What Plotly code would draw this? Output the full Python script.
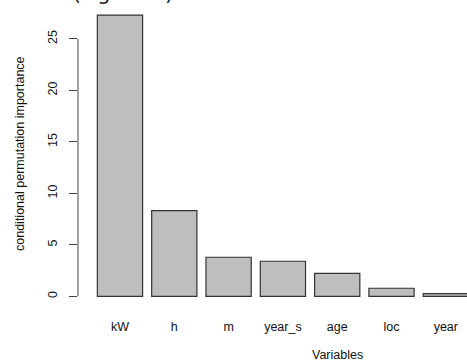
import plotly.graph_objects as go

variables = ["kW", "h", "m", "year_s", "age", "loc", "year"]
importance = [27.3, 8.31, 3.79, 3.40, 2.23, 0.78, 0.25]
y_ticks = [0, 5, 10, 15, 20, 25]

W, H = 467, 363
ML, MR, MT, MB = 78, 0, 4, 56
PH = H - MT - MB
PW = W - ML - MR

fig = go.Figure(go.Bar(
    x=list(range(len(variables))),
    y=importance,
    marker=dict(color="#BEBEBE", line=dict(color="#333333", width=1.2)),
    width=0.833,
    hoverinfo="skip",
))

fig.update_layout(
    width=W, height=H,
    margin=dict(l=ML, r=MR, t=MT, b=MB, pad=0),
    paper_bgcolor="white", plot_bgcolor="white",
    showlegend=False,
    font=dict(family="Liberation Sans, Arial, sans-serif", size=12, color="#000000"),
    xaxis=dict(
        range=[-0.773, 6.39],
        tickmode="array",
        tickvals=list(range(len(variables))),
        ticktext=variables,
        showgrid=False, zeroline=False, showline=False,
        ticks="", ticklabelstandoff=10,
        tickfont=dict(size=12.5, color="#111111"),
    ),
    yaxis=dict(
        range=[-1.04, 28.38],
        tickmode="array",
        tickvals=y_ticks,
        showgrid=False, zeroline=False, showline=False,
        ticks="outside", ticklen=8, tickwidth=1, tickcolor="#444444",
        tickangle=-90,
        ticklabelstandoff=7,
        tickfont=dict(size=12.5, color="#111111"),
    ),
    shapes=[dict(
        type="line", xref="paper", yref="y",
        x0=0, x1=0, y0=y_ticks[0], y1=y_ticks[-1],
        line=dict(color="#444444", width=1),
    )],
    annotations=[
        dict(text="conditional permutation importance", xref="paper", yref="paper",
             x=-(ML - 20) / PW, y=(H - MB - 154) / PH,
             textangle=-90, showarrow=False, xanchor="center", yanchor="middle",
             font=dict(size=12.5, color="#111111")),
        dict(text="Variables", xref="paper", yref="paper",
             x=(337 - ML) / PW, y=-(355 - (H - MB)) / PH,
             showarrow=False, xanchor="center", yanchor="middle",
             font=dict(size=12.5, color="#111111")),
        dict(text="Variable Importance (Figure 1)", xref="paper", yref="paper",
             x=(175 - ML) / PW, y=1 - (7 - MT) / PH,
             showarrow=False, xanchor="right", yanchor="bottom",
             font=dict(family="DejaVu Sans", size=21, color="#222222")),
    ],
)

fig.write_html("out.html")
